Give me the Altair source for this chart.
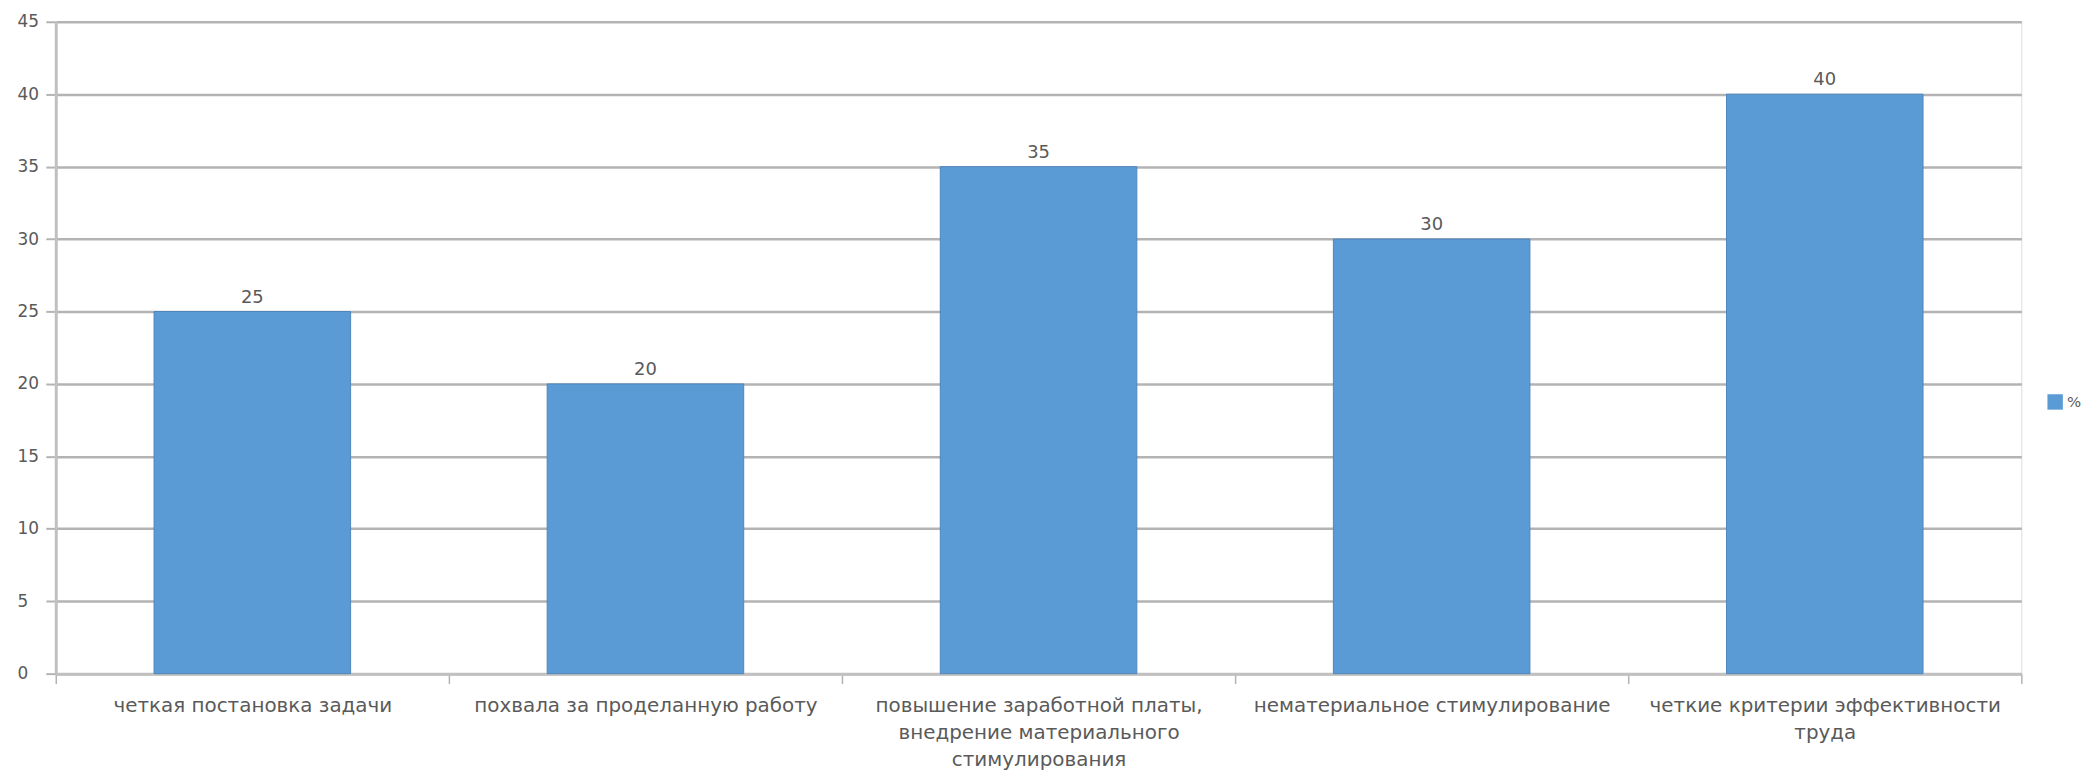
import altair as alt
import pandas as pd

categories = [
    "четкая постановка задачи",
    "похвала за проделанную работу",
    "повышение заработной платы,\nвнедрение материального\nстимулирования",
    "нематериальное стимулирование",
    "четкие критерии эффективности\nтруда",
]
values = [25, 20, 35, 30, 40]
series_name = "%"

df = pd.DataFrame({"cat": categories, "val": values, "series": [series_name] * len(values)})

FONT = "DejaVu Sans"
TXT = "#5a5a5a"
GRID = "#b3b3b3"

x_enc = alt.X(
    "cat:N",
    sort=categories,
    title=None,
    scale=alt.Scale(paddingInner=0, paddingOuter=0),
    axis=alt.Axis(
        labelAngle=0,
        labelExpr="split(datum.label, '\\n')",
        labelFont=FONT,
        labelFontSize=20,
        labelColor=TXT,
        labelLineHeight=27,
        labelPadding=12,
        labelLimit=0,
        tickBand="extent",
        tickSize=10,
        tickColor=GRID,
        tickWidth=1.5,
        domainColor="#c0c0c0",
        domainWidth=3,
        grid=False,
    ),
)

y_enc = alt.Y(
    "val:Q",
    title=None,
    scale=alt.Scale(domain=[0, 45], nice=False),
    axis=alt.Axis(
        values=[0, 5, 10, 15, 20, 25, 30, 35, 40, 45],
        labelFont=FONT,
        labelFontSize=17,
        labelColor=TXT,
        labelAlign="left",
        labelPadding=29,
        tickSize=10,
        tickColor=GRID,
        tickWidth=2,
        domainColor="#c0c0c0",
        domainWidth=3,
        gridColor=GRID,
        gridWidth=2.5,
    ),
)

bars = alt.Chart(df).mark_bar(
    width=alt.RelativeBandSize(0.5),
    stroke="#4f86bb",
    strokeWidth=1,
).encode(
    x=x_enc,
    y=y_enc,
    color=alt.Color(
        "series:N",
        scale=alt.Scale(domain=[series_name], range=["#5b9bd5"]),
        legend=alt.Legend(
            title=None,
            orient="none",
            legendX=2001,
            legendY=374,
            symbolType="square",
            symbolSize=240,
            symbolStrokeWidth=0,
            labelFont=FONT,
            labelFontSize=15,
            labelColor=TXT,
            labelOffset=4,
        ),
    ),
)

labels = alt.Chart(df).mark_text(
    dy=-9, font=FONT, fontSize=18, color=TXT, baseline="alphabetic"
).encode(
    x=alt.X("cat:N", sort=categories),
    y="val:Q",
    text="val:Q",
)

chart = (
    alt.layer(bars, labels)
    .properties(width=1975, height=655, padding={"left": 9, "top": 3, "right": 5, "bottom": 5})
    .configure_view(stroke=None)
    .configure(background="white")
)

chart.save("out.html", embed_options={"renderer": "svg", "actions": False})
